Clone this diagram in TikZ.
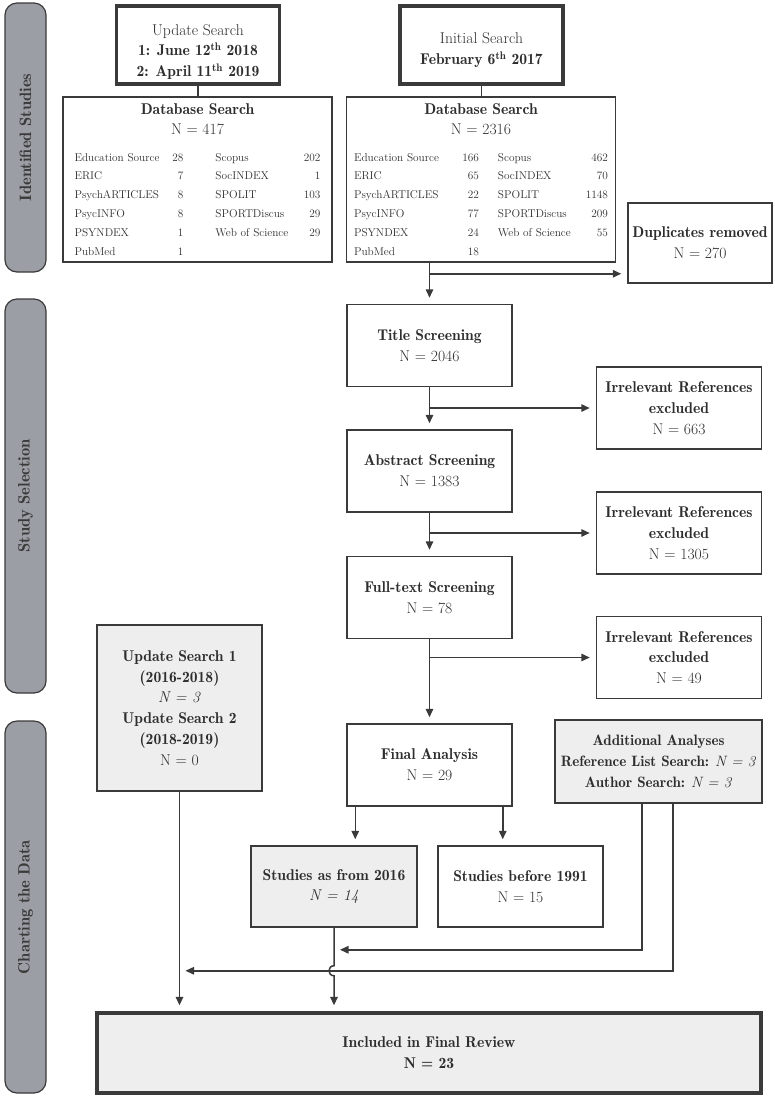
\documentclass[tikz,border=0pt]{standalone}
\usepackage{tikz}
\usetikzlibrary{positioning,arrows.meta,calc}
\usepackage{xcolor}

\definecolor{inkgray}{HTML}{3A3A3A}
\definecolor{boxfill}{HTML}{EFEEEE}
\definecolor{barfill}{HTML}{9C9EA5}
\definecolor{txtgray}{HTML}{2E2E2E}

\newlength{\dbcolA}\newlength{\dbcolB}\newlength{\dbgap}
\newcommand{\dbrow}[4]{\makebox[\dbcolA][l]{#1\hfill#2}\hspace{\dbgap}\makebox[\dbcolB][l]{#3\hfill#4}}
\newcommand{\hd}{\fontseries{b}\selectfont}

\begin{document}
\begin{tikzpicture}[
  x=1pt, y=-1pt,
  >={Triangle[length=8.5pt,width=7.5pt]},
  box/.style={draw=inkgray, line width=1.5pt, minimum width=165pt, minimum height=82pt, align=center, text=txtgray, inner sep=2pt, font=\fontsize{15.6}{20.8}\selectfont},
  greybox/.style={box, fill=boxfill},
  datebox/.style={box, line width=3.4pt, minimum width=163pt, minimum height=78pt},
  dbbox/.style={box, minimum width=269pt, minimum height=165pt, font=\fontsize{11.3}{18.8}\selectfont},
  bar/.style={draw=inkgray, fill=barfill, line width=1.2pt, rounded corners=12pt, rotate=90, minimum height=41pt, text=inkgray, font=\fontsize{16.5}{20}\selectfont\hd},
  arr/.style={->, draw=inkgray, line width=1.5pt, shorten >=6pt},
  link/.style={draw=inkgray, line width=1.5pt}
]
  \useasboundingbox (0,0) rectangle (775,1096);

  \node[bar, minimum width=269pt] (barid) at (25.5,137.5) {Identified Studies};
  \node[bar, minimum width=394pt] (barsel) at (25.5,496) {Study Selection};
  \node[bar, minimum width=372pt] (barchart) at (25.5,907) {Charting the Data};

  \node[datebox] (upd) at (198,45) {\rule{0pt}{25pt}Update Search\\{\hd 1: June 12\textsuperscript{th} 2018}\\{\hd 2: April 11\textsuperscript{th} 2019}};
  \node[datebox] (ini) at (481.5,45) {\rule{0pt}{21pt}Initial Search\\{\hd February 6\textsuperscript{th} 2017}};

  \setlength{\dbcolA}{109pt}\setlength{\dbgap}{32pt}\setlength{\dbcolB}{105pt}
  \node[dbbox] (dbl) at (197.5,179.5) {{\fontsize{15.6}{18}\selectfont\hd Database Search}\\[1pt]
    {\fontsize{15.6}{18}\selectfont N = 417}\\[8pt]
    \dbrow{Education Source}{28}{Scopus}{202}\\
    \dbrow{ERIC}{7}{SocINDEX}{1}\\
    \dbrow{PsychARTICLES}{8}{SPOLIT}{103}\\
    \dbrow{PsycINFO}{8}{SPORTDiscus}{29}\\
    \dbrow{PSYNDEX}{1}{Web of Science}{29}\\
    \dbrow{PubMed}{1}{}{}};

  \setlength{\dbcolA}{125pt}\setlength{\dbgap}{19pt}\setlength{\dbcolB}{110pt}
  \node[dbbox] (dbr) at (481,179.5) {{\fontsize{15.6}{18}\selectfont\hd Database Search}\\[1pt]
    {\fontsize{15.6}{18}\selectfont N = 2316}\\[8pt]
    \dbrow{Education Source}{166}{Scopus}{462}\\
    \dbrow{ERIC}{65}{SocINDEX}{70}\\
    \dbrow{PsychARTICLES}{22}{SPOLIT}{1148}\\
    \dbrow{PsycINFO}{77}{SPORTDiscus}{209}\\
    \dbrow{PSYNDEX}{24}{Web of Science}{55}\\
    \dbrow{PubMed}{18}{}{}};

  \node[box, minimum width=144pt, minimum height=80pt] (dup) at (700,243) {{\hd Duplicates removed}\\N = 270};

  \node[box] (title) at (429.5,345.5) {{\hd Title Screening}\\N = 2046};
  \node[box, below=42pt of title] (abs) {{\hd Abstract Screening}\\N = 1383};
  \node[box, below=43pt of abs] (full) {{\hd Full-text Screening}\\N = 78};
  \node[box, below=84pt of full] (final) {{\hd Final Analysis}\\N = 29};

  \node[box] (irr1) at (679,408) {{\hd Irrelevant References}\\{\hd excluded}\\N = 663};
  \node[box] (irr2) at (679,533) {{\hd Irrelevant References}\\{\hd excluded}\\N = 1305};
  \node[box] (irr3) at (679,657.5) {{\hd Irrelevant References}\\{\hd excluded}\\N = 49};

  \node[greybox, minimum height=166pt] (upsr) at (179.5,708) {{\hd Update Search 1}\\{\hd (2016-2018)}\\\textit{N = 3}\\{\hd Update Search 2}\\{\hd (2018-2019)}\\N = 0};
  \node[greybox, minimum width=207pt, minimum height=83pt, font=\fontsize{15}{20.8}\selectfont] (addl) at (658.5,761.5) {{\hd Additional Analyses}\\{\hd Reference List Search:} \textit{N = 3}\\{\hd Author Search:} \textit{N = 3}};

  \node[greybox, minimum width=166pt, minimum height=81pt] (s2016) at (334,886.5) {{\hd Studies as from 2016}\\\textit{N = 14}};
  \node[box, minimum height=81pt] (s1991) at (520.5,886.5) {{\hd Studies before 1991}\\N = 15};

  \node[greybox, line width=3.4pt, minimum width=664pt, minimum height=80pt] (incl) at (429,1053) {{\hd Included in Final Review}\\{\hd N = 23}};

  \draw[link] (upd.south) -- (upd.south |- dbl.north);
  \draw[link] (ini.south) -- (ini.south |- dbr.north);
  \draw[arr] (dbr.south -| title.north) -- (title.north);
  \coordinate (dupin) at ($(title.north |- dup.south)+(0,-10)$);
  \draw[arr] (dupin) -- (dupin -| dup.west);
  \draw[arr] (title) -- (abs);
  \draw[arr] (title.south |- irr1.west) -- (irr1.west);
  \draw[arr] (abs) -- (full);
  \draw[arr] (abs.south |- irr2.west) -- (irr2.west);
  \draw[arr] (full) -- (final);
  \draw[arr] (full.south |- irr3.west) -- (irr3.west);
  \draw[arr] ([xshift=9pt]final.south west) -- ([xshift=9pt]final.south west |- s2016.north);
  \draw[arr] ([xshift=-10pt]final.south east) -- ([xshift=-10pt]final.south east |- s1991.north);
  \draw[arr] (upsr.south) -- (upsr.south |- incl.north);
  \coordinate (hop) at ($(s2016.south)+(0,43)$);
  \draw[arr] (s2016.south) -- ($(hop)+(0,-5)$) .. controls +(-6.7,0) and +(-6.7,0) .. ($(hop)+(0,5)$) -- (s2016.south |- incl.north);
  \draw[arr] ([xshift=-16.5pt]addl.south) |- ($(hop)+(0,-21)$);
  \draw[arr] ([xshift=14.5pt]addl.south) |- (hop -| upsr.south);
\end{tikzpicture}
\end{document}
